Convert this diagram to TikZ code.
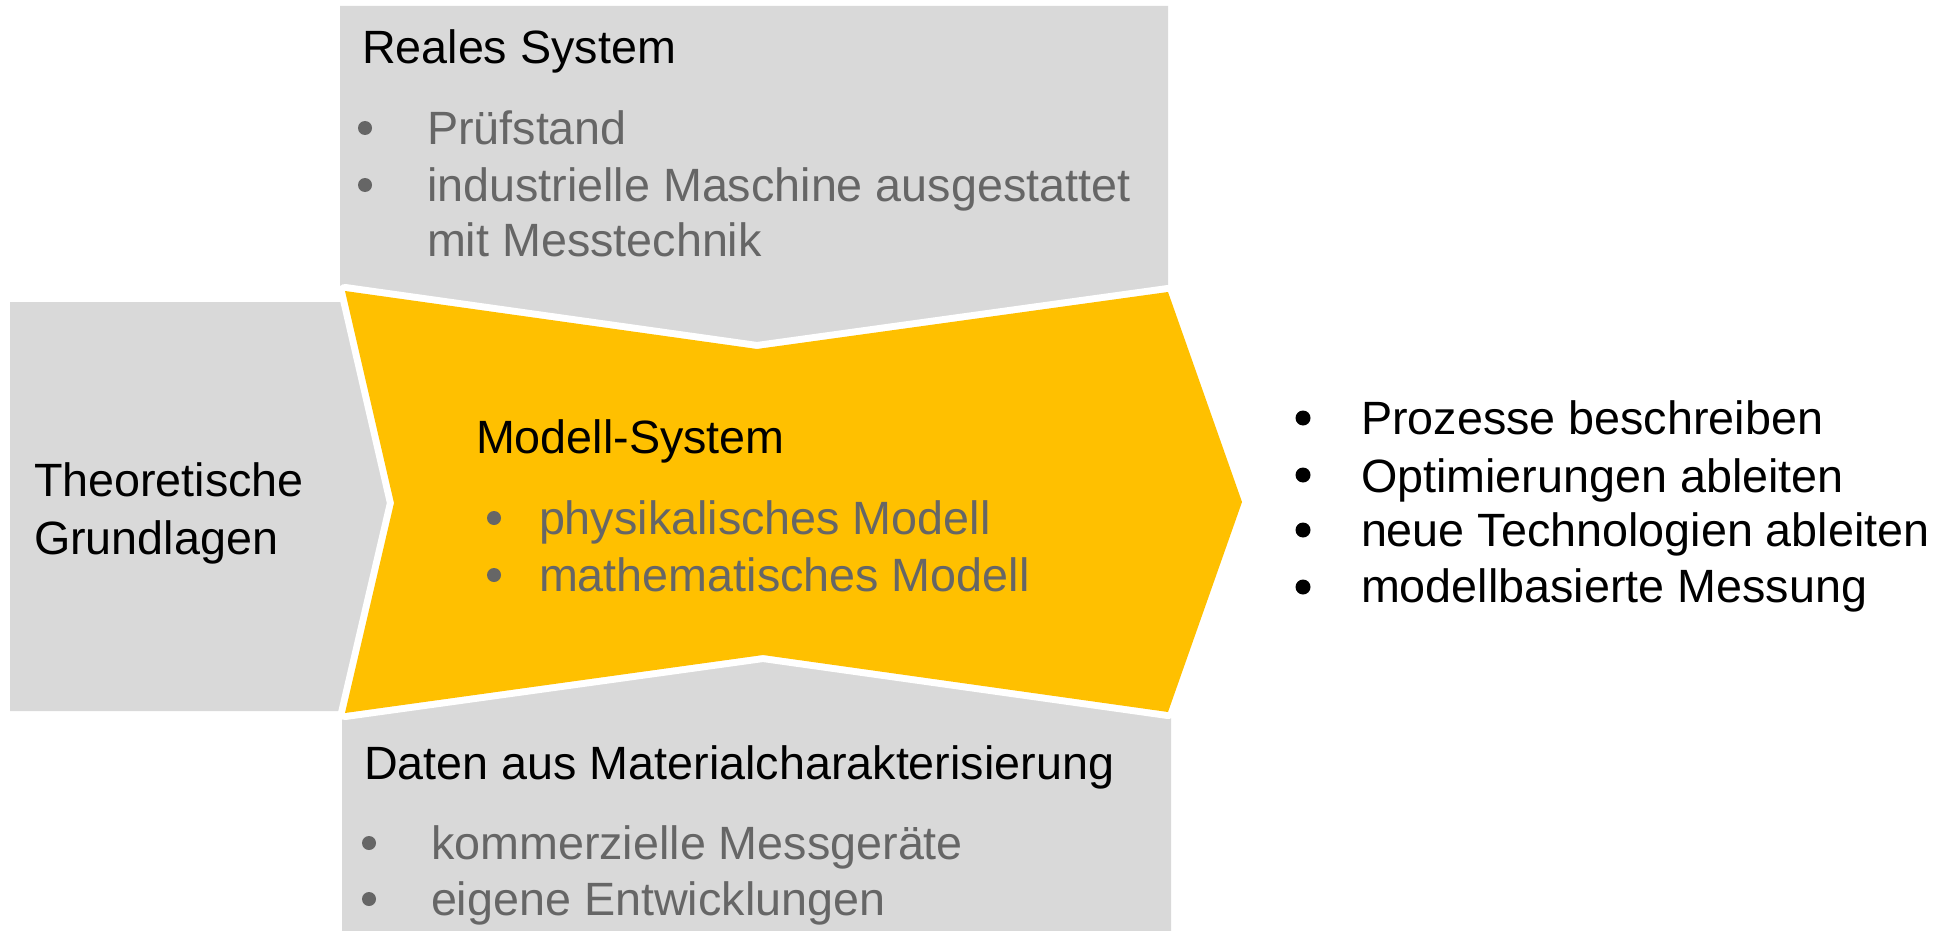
\documentclass[tikz,border=0pt]{standalone}
\usepackage{fontspec}
\setmainfont{Liberation Sans}
\definecolor{boxgray}{HTML}{D9D9D9}
\definecolor{yel}{HTML}{FFC000}
\definecolor{txtgray}{HTML}{666666}
\begin{document}
\begin{tikzpicture}[x=1pt,y=-1pt,
  every node/.style={inner sep=0pt, outer sep=0pt, font=\fontsize{46.7}{56}\selectfont},
  lbl/.style={anchor=base west, text=black},
  glbl/.style={anchor=base west, text=txtgray},
  gbul/.style={circle, fill=txtgray, minimum size=14pt},
  bbul/.style={circle, fill=black, minimum size=15pt},
  grayshape/.style={fill=boxgray},
  yelshape/.style={fill=yel, draw=white, line width=14pt, line join=round}]
\useasboundingbox (0,0) rectangle (1953,931);
% gray shapes
\path[grayshape] (340,6) -- (1168,6) -- (1168,292) -- (757,349) -- (345,291) -- (340,291) -- cycle;
\path[grayshape] (10,302) -- (345,302) -- (394,503) -- (345,711) -- (10,711) -- cycle;
\path[grayshape] (342,713) -- (763,655) -- (1171,712) -- (1171,931) -- (342,931) -- cycle;
% yellow chevron
\path[yelshape] (345,291) -- (757,349) -- (1168,292) -- (1242,502) -- (1168,712) -- (763,655) -- (345,713) -- (394,503) -- cycle;
\fill[yel] (345,291) -- (757,349) -- (1168,292) -- (1242,502) -- (1168,712) -- (763,655) -- (345,713) -- (394,503) -- cycle;
% top box
\node[lbl] (rs) at (362,64) {Reales System};
\node[gbul] (rsb1) at (365,128) {};
\node[glbl] (rs1) at (427,144) {Prüfstand};
\node[gbul] (rsb2) at (365,185) {};
\node[glbl] (rs2) at (427,201) {industrielle Maschine ausgestattet};
\node[glbl] (rs3) at (427,256) {mit Messtechnik};
% left box
\node[lbl] (tg1) at (34,496) {Theoretische};
\node[lbl] (tg2) at (34,554) {Grundlagen};
% centre
\node[lbl] (ms) at (476,453) {Modell-System};
\node[gbul] (msb1) at (494,518) {};
\node[glbl] (ms1) at (539,534) {physikalisches Modell};
\node[gbul] (msb2) at (494,575) {};
\node[glbl] (ms2) at (539,591) {mathematisches Modell};
% bottom box
\node[lbl] (dm) at (364,779) {Daten aus Materialcharakterisierung};
\node[gbul] (dmb1) at (369,843) {};
\node[glbl] (dm1) at (431,859) {kommerzielle Messgeräte};
\node[gbul] (dmb2) at (369,899) {};
\node[glbl] (dm2) at (431,915) {eigene Entwicklungen};
% right list
\node[bbul] (rb1) at (1303,418) {};
\node[lbl] (r1) at (1361,434) {Prozesse beschreiben};
\node[bbul] (rb2) at (1303,475) {};
\node[lbl] (r2) at (1361,492) {Optimierungen ableiten};
\node[bbul] (rb3) at (1303,530) {};
\node[lbl] (r3) at (1361,546) {neue Technologien ableiten};
\node[bbul] (rb4) at (1303,587) {};
\node[lbl] (r4) at (1361,602) {modellbasierte Messung};
\end{tikzpicture}
\end{document}
